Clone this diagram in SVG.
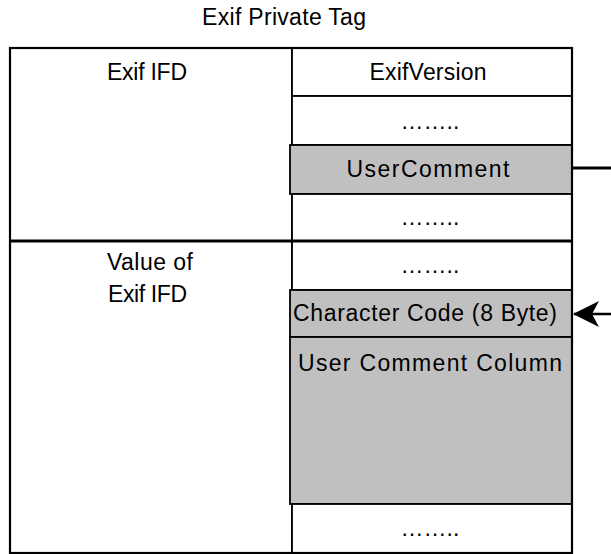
<svg xmlns="http://www.w3.org/2000/svg" width="611" height="554" viewBox="0 0 611 554">
<style>
text{font-family:"Liberation Sans",Arial,sans-serif;font-size:23px;fill:#000;text-anchor:middle}
.cell{fill:#fff;stroke:#000;stroke-width:1.8}
.gray{fill:#c0c0c0;stroke:#000;stroke-width:1.8}
.ln{stroke:#000;fill:none}
</style>
<defs>
<marker id="ah" markerWidth="30" markerHeight="30" refX="27" refY="15" orient="auto" markerUnits="userSpaceOnUse">
<path d="M28,15 L2,2 L9,15 L2,28 Z" fill="#000"/>
</marker>
</defs>
<rect width="611" height="554" fill="#fff"/>
<text id="title" x="284" y="25" textLength="164" lengthAdjust="spacing">Exif Private Tag</text>
<g id="exif-ifd">
<rect class="cell" x="10" y="48" width="282" height="193"/>
<text x="147" y="80" textLength="80" lengthAdjust="spacing">Exif IFD</text>
</g>
<g id="exif-version">
<rect class="cell" x="292" y="48" width="280" height="48"/>
<text x="428" y="80" textLength="117" lengthAdjust="spacing">ExifVersion</text>
</g>
<g id="dots1">
<rect class="cell" x="292" y="96" width="280" height="49"/>
<text x="430" y="129">……..</text>
</g>
<g id="user-comment">
<rect class="gray" x="290" y="145" width="282" height="49"/>
<text x="428" y="177" textLength="163" lengthAdjust="spacing">UserComment</text>
</g>
<g id="dots2">
<rect class="cell" x="292" y="194" width="280" height="47"/>
<text x="430" y="225">……..</text>
</g>
<g id="value-of-exif-ifd">
<rect class="cell" x="10" y="241" width="282" height="312"/>
<text x="150" y="270" textLength="86" lengthAdjust="spacing">Value of</text>
<text x="147.5" y="302" textLength="79" lengthAdjust="spacing">Exif IFD</text>
</g>
<g id="dots3">
<rect class="cell" x="292" y="241" width="280" height="49"/>
<text x="430" y="273">……..</text>
</g>
<g id="character-code">
<rect class="gray" x="290" y="290" width="282" height="47"/>
<text x="425" y="321" textLength="264" lengthAdjust="spacing">Character Code (8 Byte)</text>
</g>
<g id="user-comment-column">
<rect class="gray" x="290" y="337" width="282" height="167"/>
<text x="430" y="371" textLength="264" lengthAdjust="spacing">User Comment Column</text>
</g>
<g id="dots4">
<rect class="cell" x="292" y="504" width="280" height="49"/>
<text x="430" y="536">……..</text>
</g>
<g id="frame">
<rect class="ln" x="10" y="48" width="562" height="505" stroke-width="2.2"/>
<line class="ln" x1="10" y1="241" x2="572" y2="241" stroke-width="3"/>
</g>
<g id="connectors">
<line class="ln" x1="571" y1="168" x2="611" y2="168" stroke-width="3"/>
<line class="ln" x1="611" y1="314" x2="574" y2="314" stroke-width="2.5" marker-end="url(#ah)"/>
</g>
</svg>
